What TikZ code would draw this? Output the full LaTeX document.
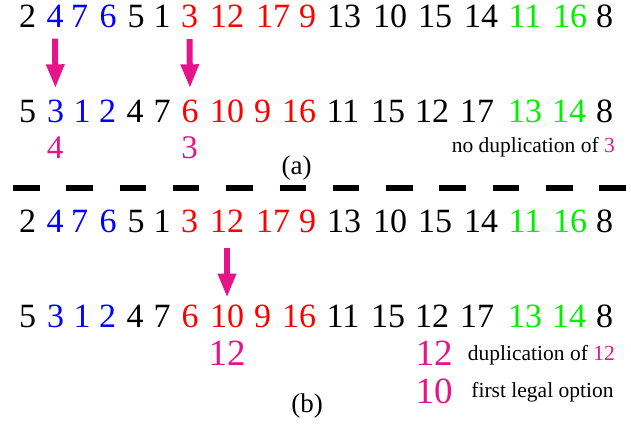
\documentclass[tikz,border=0pt]{standalone}
\usepackage{fontspec}
\setmainfont{Liberation Serif}
\usetikzlibrary{arrows.meta}
\definecolor{pinkm}{RGB}{230,20,137}
\definecolor{gr}{RGB}{0,240,0}
\definecolor{bl}{RGB}{0,0,255}
\definecolor{rd}{RGB}{255,0,0}
\tikzset{
  num/.style={inner sep=0pt, anchor=base, font=\fontsize{34}{40}\selectfont},
  sub/.style={inner sep=0pt, anchor=base, text=pinkm, font=\fontsize{33}{39}\selectfont},
  subb/.style={inner sep=0pt, anchor=base, text=pinkm, font=\fontsize{37}{43}\selectfont},
  note/.style={inner sep=0pt, anchor=base, font=\fontsize{21.5}{26}\selectfont},
  captext/.style={inner sep=0pt, anchor=base, font=\fontsize{27}{32}\selectfont},
  movearrow/.style={draw=pinkm, line width=6pt, -{Triangle[width=17pt,length=24pt]}},
}
\begin{document}
\begin{tikzpicture}[x=1pt,y=-1pt]
\useasboundingbox (0,0) rectangle (631,423);
% rows (a) top and (b) top
\foreach \i/\x/\t/\c in {1/27.5/2/black,2/55/4/bl,3/79.5/7/bl,4/108/6/bl,5/136/5/black,6/162/1/black,7/189.5/3/rd,8/227/12/rd,9/273/17/rd,10/307.5/9/rd,11/344/13/black,12/390/10/black,13/435/15/black,14/481/14/black,15/525/11/gr,16/570/16/gr,17/604.5/8/black}{
  \node[num, text=\c] (a\i) at (\x,27.5) {\t};
  \node[num, text=\c] (c\i) at (\x,232.5) {\t};
}
% rows (a) bottom and (b) bottom
\foreach \i/\x/\t/\c in {1/27.5/5/black,2/55.5/3/bl,3/82/1/bl,4/107.5/2/bl,5/135/4/black,6/162/7/black,7/190/6/rd,8/227/10/rd,9/262.5/9/rd,10/299/16/rd,11/343/11/black,12/388/15/black,13/432/12/black,14/477/17/black,15/525/13/gr,16/569/14/gr,17/604.5/8/black}{
  \node[num, text=\c] (b\i) at (\x,122) {\t};
  \node[num, text=\c] (d\i) at (\x,327.5) {\t};
}
% (a) annotations
\node[sub] (sa1) at (55,158) {4};
\node[sub] (sa2) at (189.5,158) {3};
\node[note, anchor=base east] (na) at (615,152.5) {no duplication of \textcolor{pinkm}{3}};
\node[captext] (capa) at (296.5,174) {(a)};
% arrows (a)
\draw[movearrow, shorten <=11pt, shorten >=11pt] (a2.south) -- (b2.north);
\draw[movearrow, shorten <=11pt, shorten >=11pt] (a7.south) -- (b7.north);
% separator
\coordinate (s1) at (13,188);
\coordinate (s2) at (631,188);
\draw[line width=6pt, dash pattern=on 26.5pt off 26.8pt] (s1) -- (s2);
% (b) annotations
\draw[movearrow, shorten <=15pt, shorten >=7pt] (c8.south) -- (d8.north);
\node[subb] (sb1) at (227,365) {12};
\node[subb] (sb2) at (434,365) {12};
\node[subb] (sb3) at (434,403) {10};
\node[note, anchor=base east] (nb1) at (615,360) {duplication of \textcolor{pinkm}{12}};
\node[note] (nb2) at (542.5,397.5) {first legal option};
\node[captext] (capb) at (307,412) {(b)};
\end{tikzpicture}
\end{document}
